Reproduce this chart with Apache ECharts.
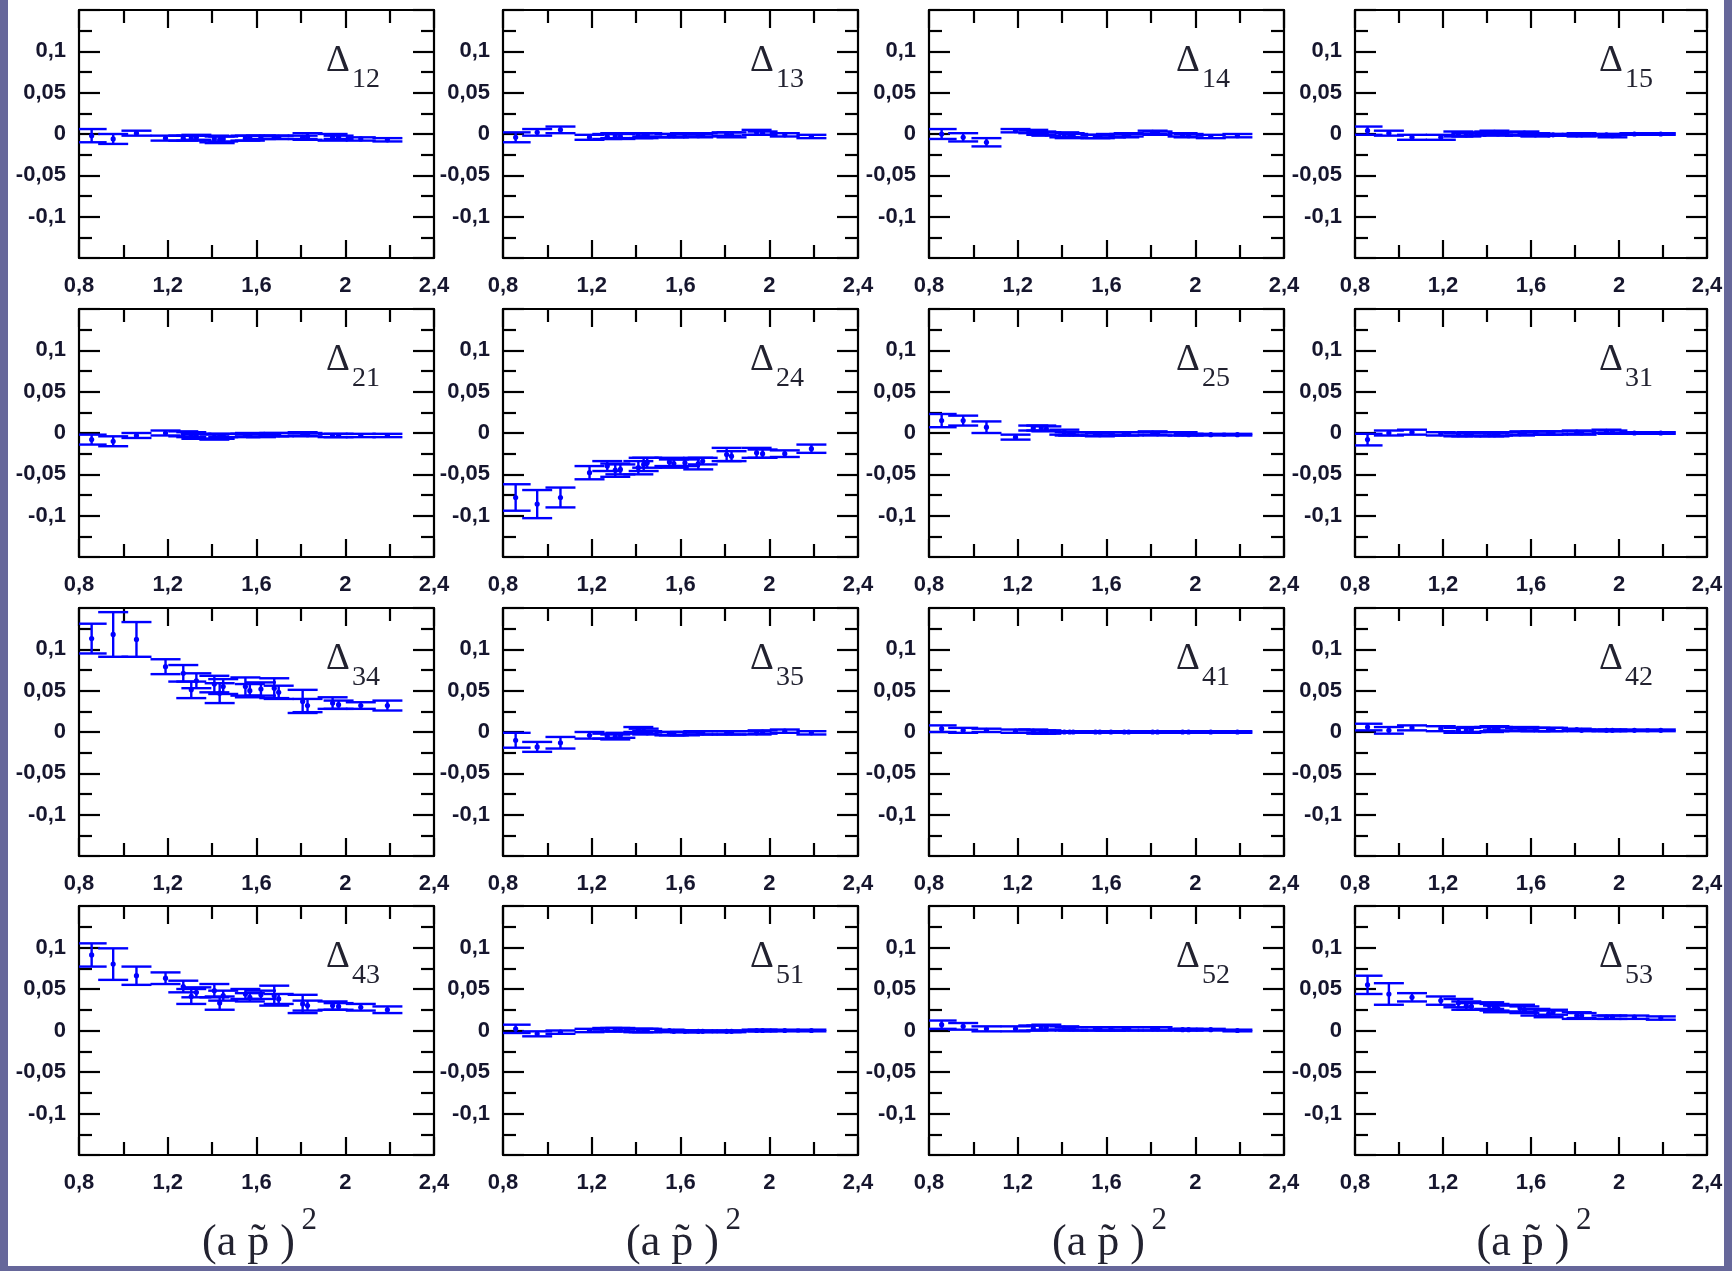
<!DOCTYPE html>
<html>
<head>
<meta charset="utf-8">
<script src="https://cdn.jsdelivr.net/npm/echarts@6/dist/echarts.min.js"></script>
<style>
html,body{margin:0;padding:0;background:#fff;}
#chart{width:1732px;height:1271px;}
</style>
</head>
<body>
<div id="chart"></div>
<script>
// common x values (a p~)^2
const X = [0.857, 0.954, 1.059, 1.19, 1.27, 1.306, 1.329, 1.41, 1.434, 1.45, 1.55, 1.57, 1.62, 1.68, 1.70, 1.808, 1.83, 1.943, 1.97, 2.07, 2.19];

const xTicks = [0.8, 1.2, 1.6, 2.0, 2.4];
const yTicks = [-0.1, -0.05, 0, 0.05, 0.1];

const y12 = [-0.002, -0.006, 0.001, -0.005, -0.005, -0.005, -0.004, -0.006, -0.007, -0.006, -0.005, -0.005, -0.004, -0.004, -0.004, -0.004, -0.003, -0.004, -0.004, -0.006, -0.007];
const e12 = [0.008, 0.006, 0.003, 0.003, 0.003, 0.003, 0.003, 0.004, 0.004, 0.003, 0.003, 0.003, 0.002, 0.002, 0.002, 0.002, 0.004, 0.004, 0.002, 0.002, 0.002];
const y13 = [-0.004, 0.002, 0.005, -0.004, -0.003, -0.002, -0.003, -0.002, -0.002, -0.001, -0.002, -0.002, -0.001, -0.002, -0.001, 0.000, -0.001, 0.002, 0.001, -0.001, -0.003];
const e13 = [0.006, 0.004, 0.004, 0.003, 0.003, 0.003, 0.003, 0.003, 0.003, 0.002, 0.002, 0.002, 0.002, 0.002, 0.002, 0.002, 0.003, 0.003, 0.002, 0.002, 0.002];
const y14 = [0.000, -0.004, -0.010, 0.004, 0.003, 0.001, 0.000, -0.001, -0.002, -0.002, -0.003, -0.003, -0.002, -0.002, -0.001, 0.002, 0.001, -0.001, -0.002, -0.003, -0.002];
const e14 = [0.006, 0.005, 0.005, 0.002, 0.002, 0.002, 0.002, 0.003, 0.003, 0.002, 0.002, 0.002, 0.002, 0.002, 0.002, 0.002, 0.002, 0.002, 0.002, 0.002, 0.002];
const y15 = [0.004, 0.001, -0.004, -0.004, 0.000, -0.001, 0.000, 0.001, 0.002, 0.000, 0.000, 0.001, -0.001, -0.001, -0.001, -0.001, -0.001, -0.001, -0.002, 0.000, 0.000];
const e15 = [0.005, 0.003, 0.003, 0.003, 0.003, 0.002, 0.002, 0.002, 0.002, 0.002, 0.002, 0.002, 0.002, 0.001, 0.001, 0.001, 0.002, 0.001, 0.002, 0.001, 0.001];
const y21 = [-0.008, -0.010, -0.003, 0.000, -0.001, -0.002, -0.004, -0.005, -0.004, -0.003, -0.003, -0.002, -0.003, -0.002, -0.002, -0.001, -0.002, -0.003, -0.003, -0.003, -0.003];
const e21 = [0.006, 0.006, 0.003, 0.003, 0.003, 0.003, 0.003, 0.003, 0.003, 0.002, 0.002, 0.002, 0.002, 0.002, 0.002, 0.002, 0.002, 0.002, 0.002, 0.002, 0.002];
const y24 = [-0.078, -0.086, -0.078, -0.048, -0.040, -0.045, -0.044, -0.042, -0.038, -0.036, -0.035, -0.037, -0.036, -0.037, -0.034, -0.026, -0.028, -0.024, -0.025, -0.025, -0.019];
const e24 = [0.016, 0.017, 0.012, 0.008, 0.006, 0.008, 0.006, 0.008, 0.008, 0.006, 0.005, 0.005, 0.004, 0.007, 0.004, 0.008, 0.006, 0.006, 0.005, 0.004, 0.005];
const y25 = [0.015, 0.015, 0.007, -0.005, 0.006, 0.006, 0.005, 0.001, -0.001, -0.001, -0.001, -0.002, -0.001, -0.001, -0.001, 0.000, -0.001, -0.001, -0.002, -0.002, -0.002];
const e25 = [0.008, 0.006, 0.007, 0.003, 0.003, 0.003, 0.003, 0.003, 0.002, 0.002, 0.002, 0.002, 0.002, 0.002, 0.002, 0.002, 0.002, 0.002, 0.001, 0.001, 0.001];
const y31 = [-0.008, 0.000, 0.001, -0.001, -0.002, -0.002, -0.001, -0.002, -0.002, -0.001, -0.001, 0.000, 0.000, 0.000, 0.000, 0.001, 0.000, 0.002, 0.001, 0.000, 0.000];
const e31 = [0.007, 0.003, 0.003, 0.002, 0.002, 0.002, 0.002, 0.002, 0.002, 0.002, 0.002, 0.002, 0.002, 0.002, 0.002, 0.002, 0.002, 0.002, 0.002, 0.001, 0.001];
const y34 = [0.113, 0.118, 0.112, 0.079, 0.071, 0.051, 0.062, 0.058, 0.047, 0.055, 0.055, 0.050, 0.052, 0.053, 0.048, 0.037, 0.032, 0.035, 0.033, 0.032, 0.032];
const e34 = [0.018, 0.027, 0.021, 0.009, 0.010, 0.010, 0.009, 0.010, 0.012, 0.009, 0.011, 0.008, 0.008, 0.012, 0.008, 0.014, 0.008, 0.007, 0.005, 0.004, 0.006];
const y35 = [-0.010, -0.018, -0.013, -0.004, -0.005, -0.006, -0.004, 0.003, 0.001, -0.001, -0.002, -0.002, -0.002, -0.001, -0.001, -0.001, -0.001, -0.001, 0.000, 0.001, -0.001];
const e35 = [0.009, 0.006, 0.007, 0.004, 0.003, 0.003, 0.003, 0.003, 0.003, 0.002, 0.002, 0.002, 0.002, 0.002, 0.002, 0.002, 0.002, 0.002, 0.002, 0.002, 0.002];
const y41 = [0.004, 0.002, 0.002, 0.001, 0.001, 0.000, 0.000, 0.000, 0.000, 0.000, 0.000, 0.000, 0.000, 0.000, 0.000, 0.000, 0.000, 0.000, 0.000, 0.000, 0.000];
const e41 = [0.004, 0.003, 0.002, 0.002, 0.002, 0.002, 0.002, 0.001, 0.001, 0.001, 0.001, 0.001, 0.001, 0.001, 0.001, 0.001, 0.001, 0.001, 0.001, 0.001, 0.001];
const y42 = [0.006, 0.002, 0.005, 0.004, 0.002, 0.002, 0.003, 0.003, 0.004, 0.004, 0.003, 0.004, 0.003, 0.003, 0.003, 0.003, 0.002, 0.002, 0.002, 0.002, 0.002];
const e42 = [0.004, 0.004, 0.003, 0.003, 0.003, 0.003, 0.003, 0.003, 0.003, 0.002, 0.002, 0.002, 0.002, 0.002, 0.002, 0.001, 0.001, 0.001, 0.001, 0.001, 0.001];
const y43 = [0.091, 0.080, 0.066, 0.063, 0.053, 0.041, 0.046, 0.048, 0.033, 0.042, 0.044, 0.040, 0.043, 0.042, 0.038, 0.032, 0.030, 0.030, 0.029, 0.028, 0.025];
const e43 = [0.014, 0.019, 0.011, 0.007, 0.007, 0.009, 0.006, 0.008, 0.008, 0.006, 0.006, 0.005, 0.005, 0.012, 0.006, 0.011, 0.006, 0.005, 0.004, 0.004, 0.004];
const y51 = [0.002, -0.004, -0.002, 0.000, 0.001, 0.001, 0.001, 0.000, 0.000, 0.000, 0.000, -0.001, -0.001, -0.001, -0.001, -0.001, -0.001, 0.000, 0.000, 0.000, 0.000];
const e51 = [0.005, 0.003, 0.002, 0.002, 0.002, 0.002, 0.002, 0.002, 0.002, 0.002, 0.001, 0.001, 0.001, 0.001, 0.001, 0.001, 0.001, 0.001, 0.001, 0.001, 0.001];
const y52 = [0.007, 0.005, 0.002, 0.002, 0.003, 0.003, 0.004, 0.003, 0.002, 0.002, 0.002, 0.002, 0.002, 0.002, 0.002, 0.002, 0.002, 0.001, 0.001, 0.001, 0.000];
const e52 = [0.005, 0.004, 0.003, 0.003, 0.003, 0.003, 0.003, 0.002, 0.002, 0.002, 0.002, 0.002, 0.002, 0.002, 0.002, 0.002, 0.002, 0.001, 0.001, 0.001, 0.001];
const y53 = [0.055, 0.044, 0.040, 0.036, 0.033, 0.030, 0.029, 0.030, 0.028, 0.026, 0.027, 0.025, 0.022, 0.020, 0.022, 0.018, 0.018, 0.016, 0.016, 0.016, 0.015];
const e53 = [0.011, 0.013, 0.005, 0.005, 0.005, 0.005, 0.004, 0.004, 0.004, 0.004, 0.004, 0.004, 0.004, 0.004, 0.003, 0.004, 0.003, 0.002, 0.002, 0.002, 0.002];

const panelNames = ['12','13','14','15','21','24','25','31','34','35','41','42','43','51','52','53'];
const panelY = [y12,y13,y14,y15,y21,y24,y25,y31,y34,y35,y41,y42,y43,y51,y52,y53];
const panelE = [e12,e13,e14,e15,e21,e24,e25,e31,e34,e35,e41,e42,e43,e51,e52,e53];

// layout (px)
const colLeft = [79, 503, 929, 1355];
const colWidth = [355, 355, 355, 352];
const rowTop = [10, 309, 608, 906];
const rowHeight = [248, 248, 248, 249];

const BLUE = '#0000ff';
const LABEL_COLOR = '#16162e';
const labelFont = {fontFamily: '"Liberation Sans", Arial, sans-serif', fontWeight: 'bold', fontSize: 22, color: LABEL_COLOR};

function fmt(v) {
  const r = Math.round(v * 1000) / 1000;
  return String(r).replace('.', ',');
}

const grids = [], xAxes = [], yAxes = [], series = [], graphics = [];

// background frame
graphics.push({type:'rect', z:-10, shape:{x:0,y:0,width:8,height:1271}, style:{fill:'#66679a'}});
graphics.push({type:'rect', z:-10, shape:{x:1724,y:0,width:8,height:1271}, style:{fill:'#66679a'}});
graphics.push({type:'rect', z:-10, shape:{x:0,y:1266,width:1732,height:5}, style:{fill:'#66679a'}});

function renderItem(params, api) {
  const x = api.value(0), y = api.value(1), e = api.value(2);
  const c = api.coord([x, y]);
  const t = api.coord([x, y + e]);
  const b = api.coord([x, y - e]);
  const w = 15;
  const st = {stroke: BLUE, lineWidth: 2.4};
  return {type: 'group', children: [
    {type: 'line', shape: {x1: c[0], y1: t[1], x2: c[0], y2: b[1]}, style: st},
    {type: 'line', shape: {x1: c[0] - w, y1: t[1], x2: c[0] + w, y2: t[1]}, style: st},
    {type: 'line', shape: {x1: c[0] - w, y1: b[1], x2: c[0] + w, y2: b[1]}, style: st},
    {type: 'circle', shape: {cx: c[0], cy: c[1], r: 2.6}, style: {fill: BLUE}}
  ]};
}

const axLine = {show: true, onZero: false, lineStyle: {color: '#000', width: 2.2}};

panelNames.forEach((name, i) => {
  const r = Math.floor(i / 4), c = i % 4;
  const left = colLeft[c], top = rowTop[r], width = colWidth[c], height = rowHeight[r];
  grids.push({left, top, width, height, containLabel: false, outerBoundsMode: 'none'});
  const xBase = {
    gridIndex: i, type: 'value', min: xTicks[0], max: xTicks[xTicks.length - 1], interval: 0.4,
    axisLine: axLine,
    axisTick: {show: true, inside: true, length: 18, lineStyle: {color: '#000', width: 2.2}},
    minorTick: {show: true, splitNumber: 2, length: 13, lineStyle: {color: '#000', width: 2.2}},
    splitLine: {show: false}, minorSplitLine: {show: false}
  };
  xAxes.push(Object.assign({}, xBase, {position: 'bottom',
    axisLabel: Object.assign({show: true, margin: 17, showMinLabel: true, showMaxLabel: true, formatter: fmt}, labelFont)}));
  xAxes.push(Object.assign({}, xBase, {position: 'top', axisLabel: {show: false}}));
  const yBase = {
    gridIndex: i, type: 'value', min: -0.15, max: 0.15, interval: 0.05,
    axisLine: axLine,
    axisTick: {show: true, inside: true, length: 21, lineStyle: {color: '#000', width: 2.2}},
    minorTick: {show: true, splitNumber: 2, length: 13, lineStyle: {color: '#000', width: 2.2}},
    splitLine: {show: false}, minorSplitLine: {show: false}
  };
  yAxes.push(Object.assign({}, yBase, {position: 'left',
    axisLabel: Object.assign({show: true, margin: 13, showMinLabel: true, showMaxLabel: true,
      formatter: v => (Math.abs(v) > 0.12 ? '' : fmt(v))}, labelFont)}));
  yAxes.push(Object.assign({}, yBase, {position: 'right', axisLabel: {show: false}}));

  const data = X.map((x, k) => [x, panelY[i][k], panelE[i][k]]);
  series.push({type: 'custom', xAxisIndex: 2 * i, yAxisIndex: 2 * i, renderItem, data, clip: true, z: 5});

  // Delta label
  const right = left + width;
  graphics.push({type: 'text', z: 10, style: {text: '\u0394', x: right - 108, y: top + 51,
    font: '37px "Liberation Serif", "Times New Roman", serif', fill: '#222230', align: 'left', verticalAlign: 'middle'}});
  graphics.push({type: 'text', z: 10, style: {text: name, x: right - 82, y: top + 70,
    font: '28px "Liberation Serif", "Times New Roman", serif', fill: '#222230', align: 'left', verticalAlign: 'middle'}});
});

// x-axis titles under each column
colLeft.forEach((l, c) => {
  const cx = l + colWidth[c] / 2;
  graphics.push({type: 'text', z: 10, style: {text: '(a p\u0303 )', x: cx - 8, y: 1243,
    font: '44px "Liberation Serif", "Times New Roman", serif', fill: '#222230', align: 'center', verticalAlign: 'middle'}});
  graphics.push({type: 'text', z: 10, style: {text: '2', x: cx + 45, y: 1221,
    font: '31px "Liberation Serif", "Times New Roman", serif', fill: '#222230', align: 'left', verticalAlign: 'middle'}});
});

const chart = echarts.init(document.getElementById('chart'), null, {renderer: 'canvas'});
chart.setOption({
  backgroundColor: '#ffffff',
  animation: false,
  grid: grids,
  xAxis: xAxes,
  yAxis: yAxes,
  series: series,
  graphic: graphics
});
</script>
</body>
</html>
